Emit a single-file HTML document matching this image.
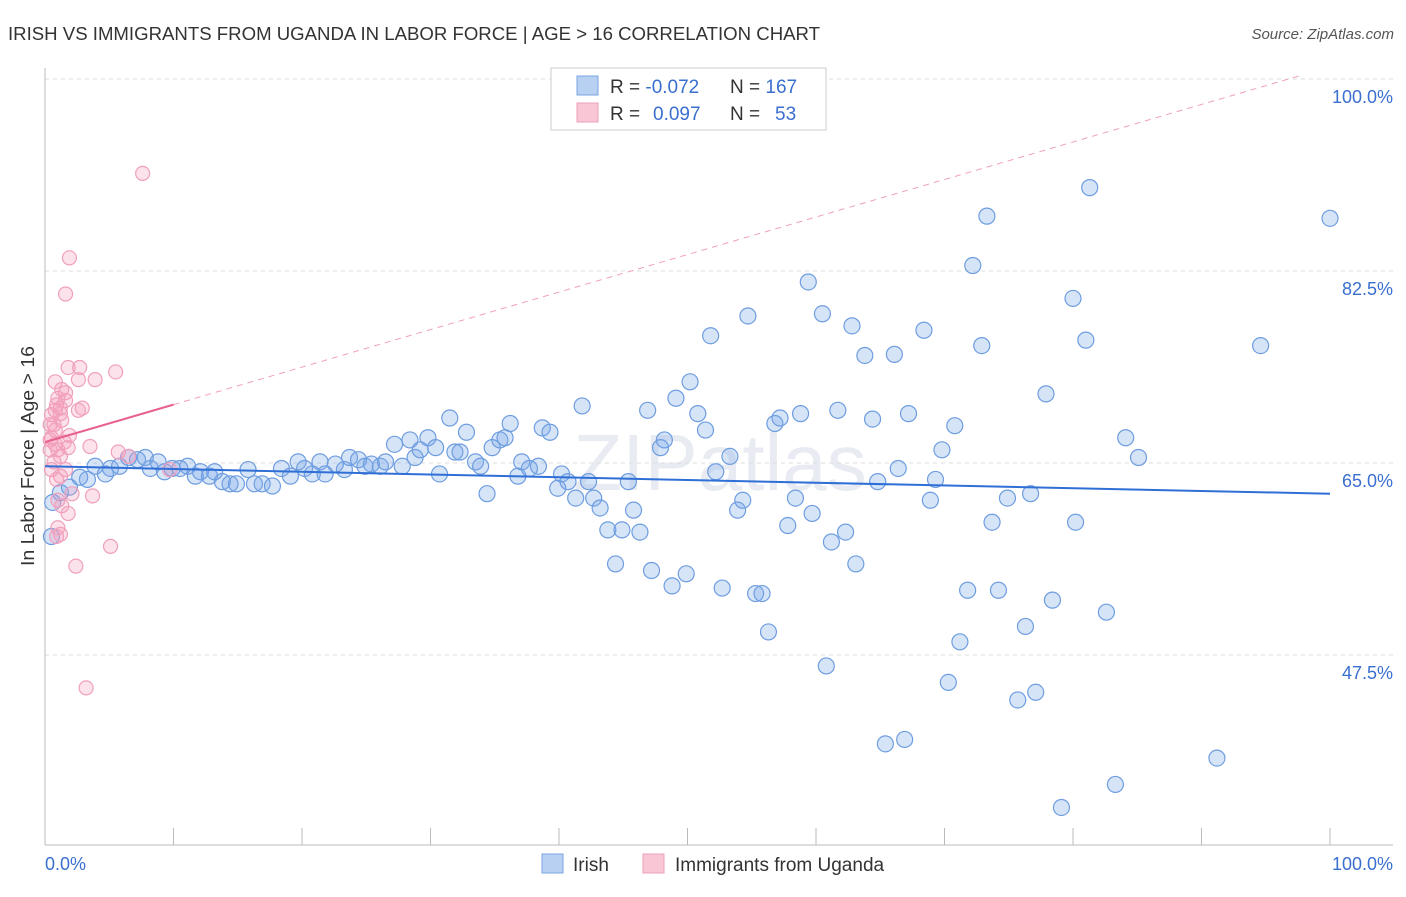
<!DOCTYPE html>
<html><head><meta charset="utf-8"><style>
body{margin:0;background:#fff;font-family:"Liberation Sans",sans-serif;}
svg text{font-family:"Liberation Sans",sans-serif;}
</style></head><body>
<svg id="chart" width="1406" height="892" xmlns="http://www.w3.org/2000/svg">
<text x="8" y="40" font-size="18" fill="#333" textLength="812" lengthAdjust="spacingAndGlyphs">IRISH VS IMMIGRANTS FROM UGANDA IN LABOR FORCE | AGE &gt; 16 CORRELATION CHART</text>
<text x="1394" y="39" font-size="15" fill="#555" font-style="italic" text-anchor="end">Source: ZipAtlas.com</text>
<text x="720" y="490" font-size="80" fill="#e8ecf2" text-anchor="middle" font-family="Liberation Serif">ZIPatlas</text>
<g id="grid"></g>
<g id="ticks"></g>
<g id="irish"></g>
<g id="uganda"></g>
<g id="trends"></g>
<text transform="translate(34,456) rotate(-90)" font-size="18" fill="#333" text-anchor="middle" textLength="220" lengthAdjust="spacingAndGlyphs">In Labor Force | Age &gt; 16</text>
<text x="45" y="870" font-size="18" fill="#3a6fd0">0.0%</text>
<text x="1393" y="870" font-size="18" fill="#3a6fd0" text-anchor="end">100.0%</text>
<g>
<rect x="551" y="68" width="275" height="62" fill="#fff" stroke="#ccc"/>
<rect x="577" y="76" width="21" height="19" fill="#b8d1f3" stroke="#7aa3e0"/>
<rect x="577" y="103" width="21" height="19" fill="#f9c6d5" stroke="#eca0b8"/>
<text x="610" y="93" font-size="19" fill="#333">R = <tspan fill="#3a6fd0">-0.072</tspan></text>
<text x="730" y="93" font-size="19" fill="#333">N = <tspan fill="#3a6fd0">167</tspan></text>
<text x="610" y="120" font-size="19" fill="#333">R = <tspan fill="#3a6fd0" x="653">0.097</tspan></text>
<text x="730" y="120" font-size="19" fill="#333">N = <tspan fill="#3a6fd0" x="775">53</tspan></text>
</g>
<g>
<rect x="542" y="854" width="21" height="19" fill="#b8d1f3" stroke="#7aa3e0"/>
<text x="573" y="871" font-size="19" fill="#333">Irish</text>
<rect x="643" y="854" width="21" height="19" fill="#f9c6d5" stroke="#eca0b8"/>
<text x="675" y="871" font-size="19" fill="#333">Immigrants from Uganda</text>
</g>
</svg>
<script>
const yTicks=[100,82.5,65,47.5];
const yTickLabels=["100.0%","82.5%","65.0%","47.5%"];
const xTicks=[0,10,20,30,40,50,60,70,80,90,100];
const irishX=[0.6,0.5,1.2,1.9,3.3,2.7,3.9,4.7,5.1,5.8,6.5,7.2,7.8,8.2,8.8,9.3,9.9,10.5,11.1,11.7,12.1,12.8,13.2,13.8,14.4,14.9,15.8,16.3,16.9,17.7,18.4,19.1,19.7,20.2,20.8,21.4,21.8,22.6,23.3,23.7,24.4,24.9,25.4,26.1,26.5,27.2,27.8,28.4,28.8,29.2,29.8,30.4,30.7,31.5,31.9,32.3,32.8,33.5,33.9,34.4,34.8,35.4,35.8,36.2,36.8,37.1,37.7,38.4,38.7,39.3,39.9,40.2,40.7,41.3,41.8,42.3,42.7,43.2,43.8,44.4,44.9,45.4,45.8,46.3,46.9,47.2,47.9,48.2,48.8,49.1,49.9,50.2,50.8,51.4,51.8,52.2,52.7,53.3,53.9,54.3,54.7,55.3,55.8,56.3,56.8,57.2,57.8,58.4,58.8,59.4,59.7,60.5,60.8,61.2,61.7,62.3,62.8,63.1,63.8,64.4,64.8,65.4,66.1,66.4,66.9,67.2,68.4,68.9,69.3,69.8,70.3,70.8,71.2,71.8,72.2,72.9,73.3,73.7,74.2,74.9,75.7,76.3,76.7,77.1,77.9,78.4,79.1,80.0,80.2,81.0,81.3,82.6,83.3,84.1,85.1,91.2,94.6,100.0];
const irishY=[61.4,58.3,62.3,62.8,63.5,63.7,64.7,64.0,64.5,64.7,65.5,65.3,65.5,64.5,65.1,64.2,64.5,64.5,64.7,63.8,64.2,63.8,64.2,63.3,63.1,63.1,64.4,63.1,63.1,62.9,64.5,63.8,65.1,64.5,64.0,65.1,64.0,64.9,64.4,65.5,65.3,64.7,64.9,64.7,65.1,66.7,64.7,67.1,65.5,66.2,67.3,66.4,64.0,69.1,66.0,66.0,67.8,65.1,64.7,62.2,66.4,67.1,67.3,68.6,63.8,65.1,64.5,64.7,68.2,67.8,62.7,64.0,63.3,61.8,70.2,63.3,61.8,60.9,58.9,55.8,58.9,63.3,60.7,58.7,69.8,55.2,66.4,67.1,53.8,70.9,54.9,72.4,69.5,68.0,76.6,64.2,53.6,65.6,60.7,61.6,78.4,53.1,53.1,49.6,68.6,69.1,59.3,61.8,69.5,81.5,60.4,78.6,46.5,57.8,69.8,58.7,77.5,55.8,74.8,69.0,63.3,39.4,74.9,64.5,39.8,69.5,77.1,61.6,63.5,66.2,45.0,68.4,48.7,53.4,83.0,75.7,87.5,59.6,53.4,61.8,43.4,50.1,62.2,44.1,71.3,52.5,33.6,80.0,59.6,76.2,90.1,51.4,35.7,67.3,65.5,38.1,75.7,87.3];
const ugandaX=[7.6,1.9,1.6,3.2,5.5,5.1,3.9,2.7,1.8,2.6,1.3,0.8,1.6,1.0,1.2,2.9,0.8,0.5,1.2,0.8,0.5,0.4,0.8,1.0,1.8,1.5,3.5,5.7,0.7,1.2,0.9,2.1,3.7,1.3,1.8,1.0,0.9,1.2,2.4,6.5,9.7,0.4,1.9,0.5,1.3,1.6,1.0,0.4,0.9,1.6,2.6,1.2,0.7];
const ugandaY=[91.4,83.7,80.4,44.5,73.3,57.4,72.6,73.7,73.7,72.6,71.7,72.4,71.4,70.9,70.0,70.0,69.8,69.4,69.5,68.0,67.3,67.1,66.7,66.2,66.4,66.9,66.5,66.0,65.1,63.8,63.5,62.2,62.0,61.1,60.4,59.1,58.3,58.5,55.6,65.6,64.4,68.5,67.5,64.4,68.9,64.4,61.6,66.2,70.3,70.7,69.8,65.6,68.5];
const irishTrend=[64.7,62.2];
const ugandaTrend=[66.9,101.1];
const ugandaSolidEnd=10;

const NS="http://www.w3.org/2000/svg";
const X=v=>45+v*12.85;
const Y=v=>79+(100-v)*10.971;
function mk(tag,attrs,parent){const e=document.createElementNS(NS,tag);for(const k in attrs)e.setAttribute(k,attrs[k]);parent.appendChild(e);return e;}
const grid=document.getElementById('grid');
yTicks.forEach((t,i)=>{
  const l=mk('line',{x1:45,x2:1393,y1:Y(t),y2:Y(t),stroke:'#ddd','stroke-dasharray':'4,4'},grid);
  
  
  const tx=mk('text',{x:1393,y:Y(t)+24,'font-size':18,fill:'#3a6fd0','text-anchor':'end'},grid);
  
  
  tx.textContent=yTickLabels[i];
});
const ax=mk('line',{x1:45,x2:45,y1:68,y2:845,stroke:'#bbb'},grid);


const bx=mk('line',{x1:45,x2:1393,y1:845,y2:845,stroke:'#bbb'},grid);


const tk=document.getElementById('ticks');
xTicks.forEach(t=>{
  const l=mk('line',{x1:X(t),x2:X(t),y1:828,y2:845,stroke:'#bbb'},tk);
  
  
});
const gi=document.getElementById('irish');
irishX.forEach((x,i)=>{
  const c=mk('circle',{cx:X(x),cy:Y(irishY[i]),r:8,fill:'rgba(120,165,232,0.3)',stroke:'#6e9de0','stroke-width':1.2},gi);
  
  
});
const gu=document.getElementById('uganda');
ugandaX.forEach((x,i)=>{
  const c=mk('circle',{cx:X(x),cy:Y(ugandaY[i]),r:7,fill:'rgba(245,160,190,0.3)',stroke:'#f0a0bc','stroke-width':1.2},gu);
  
  
});
const tr=document.getElementById('trends');
const ut=x=>ugandaTrend[0]+(ugandaTrend[1]-ugandaTrend[0])*x/100;
const d=mk('line',{x1:X(ugandaSolidEnd),y1:Y(ut(ugandaSolidEnd)),x2:X(97.7),y2:Y(ut(97.7)),stroke:'#f0a0bc','stroke-dasharray':'6,5','stroke-width':1},tr);


const s=mk('line',{x1:X(0),y1:Y(ut(0)),x2:X(ugandaSolidEnd),y2:Y(ut(ugandaSolidEnd)),stroke:'#e8608f','stroke-width':2},tr);


const b=mk('line',{x1:X(0),y1:Y(irishTrend[0]),x2:X(100),y2:Y(irishTrend[1]),stroke:'#2f6fd6','stroke-width':2},tr);


</script>
</body></html>
